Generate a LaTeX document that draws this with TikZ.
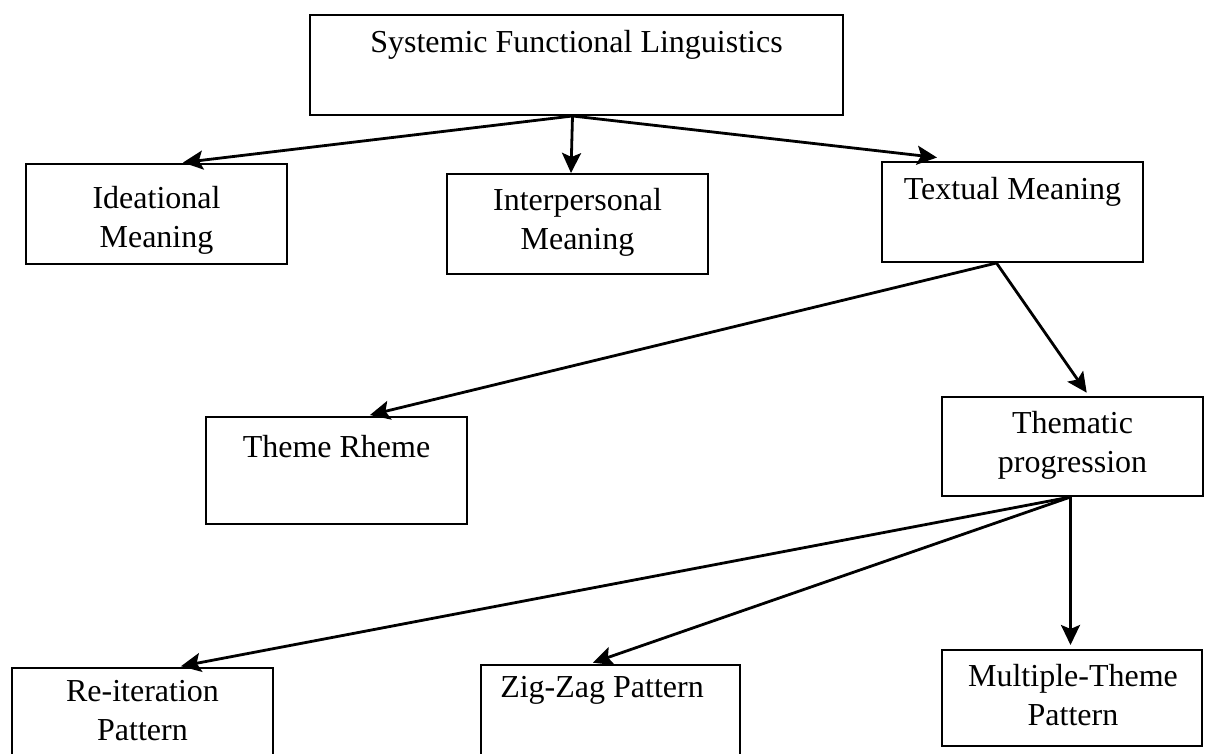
\documentclass[tikz,border=0pt]{standalone}
\usepackage{fontspec}
\setmainfont{Liberation Serif}
\usetikzlibrary{arrows.meta,calc}
\begin{document}
\begin{tikzpicture}[x=1pt,y=-1pt,
  box/.style={draw=black,line width=2pt,rectangle,inner sep=0pt},
  txt/.style={inner sep=0pt,align=center,font=\fontsize{32}{39}\selectfont},
  arr/.style={draw=black,line width=2.8pt,
    -{Stealth[length=20pt,width=19pt,inset=4pt]}},
  gap/.style={shorten >=4pt}]
\useasboundingbox (0,0) rectangle (1208,754);
\fill[white] (0,0) rectangle (1208,754);

% boxes
\node[box,minimum width=533pt,minimum height=100pt] (sfl) at (576.5,65) {};
\node[box,minimum width=261pt,minimum height=100pt] (ideo) at (156.5,214) {};
\node[box,minimum width=261pt,minimum height=100pt] (inter) at (577.5,224) {};
\node[box,minimum width=261pt,minimum height=100pt] (textual) at (1012.5,212) {};
\node[box,minimum width=261pt,minimum height=107pt] (theme) at (336.5,470.5) {};
\node[box,minimum width=261pt,minimum height=99pt] (thematic) at (1072.5,446.5) {};
\node[box,minimum width=261pt,minimum height=100pt] (reit) at (142.5,718) {};
\node[box,minimum width=259pt,minimum height=100pt] (zig) at (610.5,715) {};
\node[box,minimum width=260pt,minimum height=96pt] (multi) at (1072,698) {};

% labels
\node[txt] (tsfl) at (576.5,45) {Systemic Functional Linguistics};
\node[txt] (tideo) at (156.5,220) {Ideational\\Meaning};
\node[txt] (tinter) at (577.5,222) {Interpersonal\\Meaning};
\node[txt] (ttextual) at (1012.5,192) {Textual Meaning};
\node[txt] (ttheme) at (336.5,447) {Theme Rheme};
\node[txt] (tthematic) at (1072.5,445) {Thematic\\progression};
\node[txt] (treit) at (142.5,711) {Re-iteration\\Pattern};
\node[txt] (tzig) at (602,690) {Zig-Zag Pattern};
\node[txt] (tmulti) at (1073,695) {Multiple-Theme\\Pattern};

% branch points
\coordinate (sflout) at ($(sfl.south)+(-4,0)$);
\coordinate (txtout) at ($(textual.south)+(-16,0)$);
\coordinate (tpout) at ($(thematic.south)+(-2,0)$);

% connectors
\draw[arr,gap] (sflout) -- ($(ideo.north west)+(154,0)$);
\draw[arr] (sflout) -- ($(inter.north west)+(125,0)$);
\draw[arr,gap] (sflout) -- ($(textual.north west)+(60,-3)$);
\draw[arr,gap] (txtout) -- ($(theme.north west)+(161,0)$);
\draw[arr,gap] (txtout) -- ($(thematic.north west)+(148,0)$);
\draw[arr,gap] (tpout) -- ($(reit.north west)+(166,0)$);
\draw[arr,gap] (tpout) -- ($(zig.north west)+(109,0)$);
\draw[arr,gap] (tpout) -- (tpout |- multi.north);
\end{tikzpicture}
\end{document}
